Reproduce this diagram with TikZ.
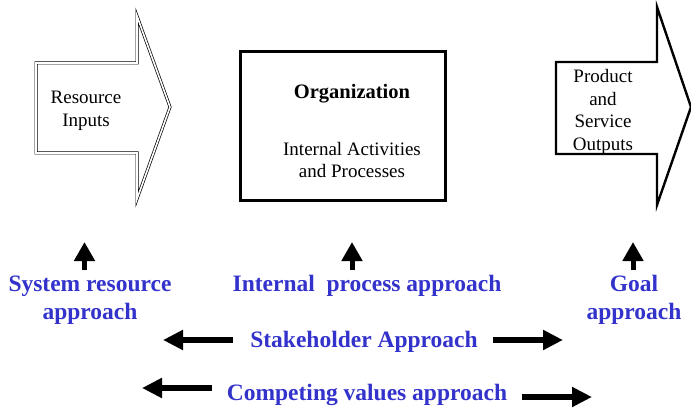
\documentclass[tikz,border=0pt]{standalone}
\usepackage{fontspec}
\setmainfont{Liberation Serif}
\usepackage{tikz}
\usetikzlibrary{arrows.meta, positioning, calc}
\definecolor{appblue}{RGB}{51, 51, 204}

\tikzset{
	boxtext/.style={align=center, inner sep=0pt, font=\fontsize{19}{22.5}\selectfont},
	headtext/.style={inner sep=0pt, font=\fontsize{20.5}{24}\selectfont\bfseries},
	approach/.style={align=center, inner sep=0pt, text=appblue, font=\fontsize{23.5}{28}\selectfont\bfseries},
	blockarrow/.style={line width=5.3pt, -{Triangle[length=20pt, width=19pt]}},
	uparrow/.style={line width=5pt, -{Triangle[length=19pt, width=20pt]}}
}

\begin{document}
\begin{tikzpicture}[x=1pt, y=-1pt]
	\useasboundingbox (0,0) rectangle (691,409);
	% input, organization and output shapes
	\draw[line width=0.7pt, double, double distance=1.6pt, line join=miter]
		(36,63) -- (137,63) -- (137,16) -- (170,107) -- (137,199) -- (137,153) -- (36,153) -- cycle;
	\draw[line width=3pt] (240,52) rectangle (445,200);
	\draw[line width=2.4pt, line join=miter]
		(556,62) -- (657,62) -- (657,7) -- (691,107) -- (657,205) -- (657,154) -- (556,154) -- cycle;
	\node[boxtext] (inputs) at (86,111) {Resource\\Inputs};
	\node[headtext] (org) at (352,94) {Organization};
	\node[boxtext] (activities) at (352,160) {Internal Activities\\and Processes};
	\node[boxtext] (outputs) at (603,112) {Product\\and\\Service\\Outputs};
	% approaches
	\node[approach] (sysres) at (90,300) {System resource\\approach};
	\node[approach] (internal) at (367,286) {Internal\ \ process approach};
	\node[approach] (goal) at (634,300) {Goal\\approach};
	\node[approach] (stake) at (364,342) {Stakeholder Approach};
	\node[approach] (compete) at (367,395) {Competing values approach};
	\foreach \name/\x in {sysres/84.5, internal/352, goal/633}{
		\coordinate (\name base) at (\x,270);
		\coordinate (\name top) at (\x,242);
		\draw[uparrow] (\name base) -- (\name top);
	}
	\coordinate (stake L tail) at (233,340);
	\coordinate (stake L tip) at (163,340);
	\coordinate (stake R tail) at (493,340);
	\coordinate (stake R tip) at (563,340);
	\coordinate (compete L tail) at (212,388);
	\coordinate (compete L tip) at (142,388);
	\coordinate (compete R tail) at (522,397);
	\coordinate (compete R tip) at (592,397);
	\draw[blockarrow] (stake L tail) -- (stake L tip);
	\draw[blockarrow] (stake R tail) -- (stake R tip);
	\draw[blockarrow] (compete L tail) -- (compete L tip);
	\draw[blockarrow] (compete R tail) -- (compete R tip);
\end{tikzpicture}
\end{document}
